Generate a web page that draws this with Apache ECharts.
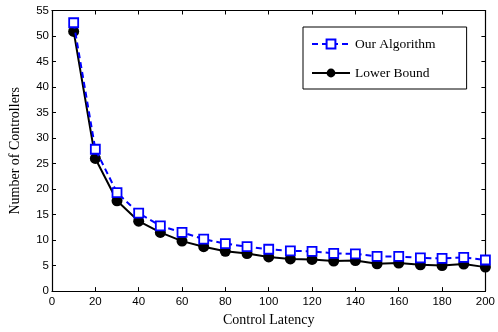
<!DOCTYPE html>
<html><head><meta charset="utf-8">
<script src="https://cdn.jsdelivr.net/npm/echarts@6/dist/echarts.min.js"></script>
<style>html,body{margin:0;padding:0;background:#fff}#c{width:498px;height:332px}</style>
</head><body><div id="c"></div>
<script>
var latency = [10,20,30,40,50,60,70,80,90,100,110,120,130,140,150,160,170,180,190,200];
var ourAlgorithm = [52.6,27.8,19.3,15.3,12.8,11.5,10.2,9.3,8.7,8.2,7.9,7.8,7.4,7.3,6.8,6.8,6.5,6.4,6.6,6.1];
var lowerBound = [50.9,26.0,17.7,13.7,11.5,9.8,8.7,7.8,7.35,6.7,6.3,6.2,5.9,6.0,5.35,5.5,5.15,5.0,5.3,4.7];
var xTicks = [0,20,40,60,80,100,120,140,160,180,200];
var yTicks = [0,5,10,15,20,25,30,35,40,45,50,55];

function pairs(xs, ys){ return xs.map(function(x,i){return [x, ys[i]];}); }

var chart = echarts.init(document.getElementById('c'), null, {renderer:'canvas'});
var axisLine = {show:true, onZero:false, lineStyle:{color:'#000', width:1.2}};
var tick = {show:true, inside:true, length:4, lineStyle:{color:'#000', width:1}};
var lbl = {color:'#000', fontFamily:'Liberation Sans', fontSize:11.5};
chart.setOption({
  animation:false,
  grid:{left:51, right:12, top:10.5, bottom:37, containLabel:false},
  xAxis:[{
    type:'value', min:0, max:200, interval:20,
    name:'Control Latency', nameLocation:'middle', nameGap:20,
    nameTextStyle:{fontFamily:'Liberation Serif', fontSize:14, color:'#000'},
    axisLine:axisLine, axisTick:tick, splitLine:{show:false},
    axisLabel:Object.assign({margin:5}, lbl)
  },{
    type:'value', min:0, max:200, interval:20, position:'top',
    axisLine:axisLine, axisTick:tick, splitLine:{show:false}, axisLabel:{show:false}
  }],
  yAxis:[{
    type:'value', min:0, max:55, interval:5,
    name:'Number of Controllers', nameLocation:'middle', nameGap:30,
    nameTextStyle:{fontFamily:'Liberation Serif', fontSize:14, color:'#000'},
    axisLine:axisLine, axisTick:tick, splitLine:{show:false},
    axisLabel:Object.assign({margin:3}, lbl)
  },{
    type:'value', min:0, max:55, interval:5, position:'right',
    axisLine:axisLine, axisTick:tick, splitLine:{show:false}, axisLabel:{show:false}
  }],
  legend:{
    orient:'vertical', left:303, top:27,
    padding:[10,31,9,8], itemGap:15, itemWidth:38, itemHeight:11,
    borderColor:'#000', borderWidth:1, backgroundColor:'#fff',
    textStyle:{fontFamily:'Liberation Serif', fontSize:13.5, color:'#000', lineHeight:13},
    data:['Our Algorithm','Lower Bound']
  },
  series:[{
    name:'Lower Bound', type:'line', data:pairs(latency, lowerBound),
    symbol:'circle', symbolSize:11,
    itemStyle:{color:'#000'},
    lineStyle:{color:'#000', width:2}, z:2
  },{
    name:'Our Algorithm', type:'line', data:pairs(latency, ourAlgorithm),
    symbol:'rect', symbolSize:9,
    itemStyle:{color:'#fff', borderColor:'#0000ff', borderWidth:1.8},
    lineStyle:{color:'#0000ff', width:2, type:[6,4]}, z:3
  }]
});
</script></body></html>
